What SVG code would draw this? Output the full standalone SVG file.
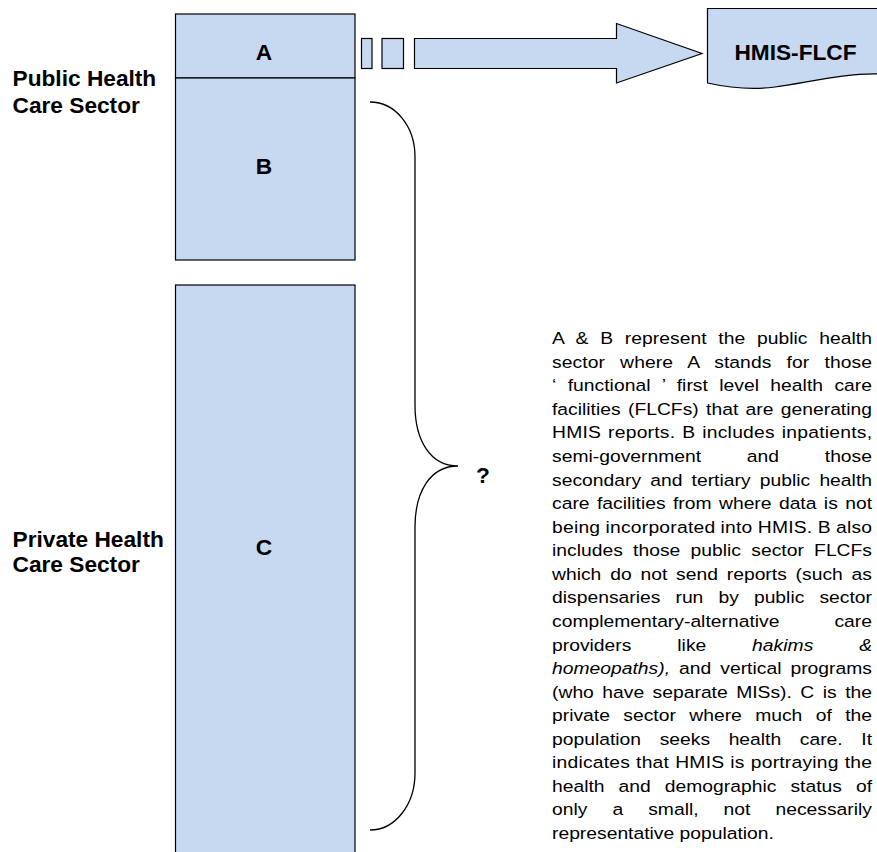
<svg xmlns="http://www.w3.org/2000/svg" width="877" height="852" viewBox="0 0 877 852">
<style>
.box{fill:#c6d9f1;stroke:#000;stroke-width:1.2}
.lbl{font-family:"Liberation Sans",Arial,sans-serif;font-weight:bold;font-size:22.7px;fill:#000}
.mid{text-anchor:middle}
.par{font-family:"Liberation Sans",Arial,sans-serif;font-size:16.5px;fill:#000}
.brace{fill:none;stroke:#000;stroke-width:1.3}
</style>
<rect width="877" height="852" fill="#fff"/>
<g id="box-a">
<rect class="box" x="175.5" y="14" width="179.5" height="64"/>
<text class="lbl mid" x="264" y="59.5">A</text>
</g>
<g id="box-b">
<rect class="box" x="175.5" y="78" width="179.5" height="182"/>
<text class="lbl mid" x="264" y="173.5">B</text>
</g>
<g id="box-c">
<rect class="box" x="175.5" y="285" width="179.5" height="580"/>
<text class="lbl mid" x="264" y="555">C</text>
</g>
<g id="hmis-flcf">
<path class="box" d="M707.5,8.5 H880 V74 C845,73 810,82 775,87 C752,90 730,88 707.5,83 Z"/>
<text class="lbl mid" x="795.5" y="60">HMIS-FLCF</text>
</g>
<g id="label-public">
<text class="lbl" x="12.5" y="86">Public Health</text>
<text class="lbl" x="12.5" y="113">Care Sector</text>
</g>
<g id="label-private">
<text class="lbl" x="12.5" y="546.5">Private Health</text>
<text class="lbl" x="12.5" y="571.5">Care Sector</text>
</g>
<g id="connectors">
<rect class="box" x="361.5" y="38.5" width="10.5" height="30"/>
<rect class="box" x="382" y="38.5" width="21.5" height="30"/>
<path class="box" d="M414.5,38.5 H616.5 V23.5 L702,53.5 L616.5,83 V68.5 H414.5 Z"/>
<path class="brace" d="M370,102 C395,102 415,126 415,157 V405 C415,440 430,466 458,466 C430,466 415,492 415,527 V773 C415,805 395,830 370,830"/>
</g>
<g id="question">
<text class="lbl mid" x="483" y="483">?</text>
</g>
<g id="description" class="par" transform="translate(552,0) scale(1.17,1)">
<text x="0" y="344.3" word-spacing="5.38" textLength="273.5">A &amp; B represent the public health</text>
<text x="0" y="367.9" word-spacing="8.3" textLength="273.5">sector where A stands for those</text>
<text x="0" y="391.4" word-spacing="5.08" textLength="273.5">‘ functional ’ first level health care</text>
<text x="0" y="415" word-spacing="1.67" textLength="273.5">facilities (FLCFs) that are generating</text>
<text x="0" y="438.5" word-spacing="1.2" textLength="273.5">HMIS reports. B includes inpatients,</text>
<text x="0" y="462.1" word-spacing="34.5" textLength="273.5">semi-government and those</text>
<text x="0" y="485.7" word-spacing="3.25" textLength="273.5">secondary and tertiary public health</text>
<text x="0" y="509.2" word-spacing="1.72" textLength="273.5">care facilities from where data is not</text>
<text x="0" y="532.8" word-spacing="-0.32" textLength="273.5">being incorporated into HMIS. B also</text>
<text x="0" y="556.3" word-spacing="4.2" textLength="273.5">includes those public sector FLCFs</text>
<text x="0" y="579.9" word-spacing="2.93" textLength="273.5">which do not send reports (such as</text>
<text x="0" y="603.5" word-spacing="8.3" textLength="273.5">dispensaries run by public sector</text>
<text x="0" y="627" word-spacing="42.4" textLength="273.5">complementary-alternative care</text>
<text x="0" y="650.6" word-spacing="34.6" textLength="273.5">providers like <tspan font-style="italic">hakims &amp;</tspan></text>
<text x="0" y="674.1" word-spacing="3.1" textLength="273.5"><tspan font-style="italic">homeopaths),</tspan> and vertical programs</text>
<text x="0" y="697.7" word-spacing="2.63" textLength="273.5">(who have separate MISs). C is the</text>
<text x="0" y="721.3" word-spacing="6.83" textLength="273.5">private sector where much of the</text>
<text x="0" y="744.8" word-spacing="11.3" textLength="273.5">population seeks health care. It</text>
<text x="0" y="768.4" word-spacing="0.42" textLength="273.5">indicates that HMIS is portraying the</text>
<text x="0" y="791.9" word-spacing="7.4" textLength="273.5">health and demographic status of</text>
<text x="0" y="815.5" word-spacing="16.8" textLength="273.5">only a small, not necessarily</text>
<text x="0" y="839.1">representative population.</text>
</g>
</svg>
